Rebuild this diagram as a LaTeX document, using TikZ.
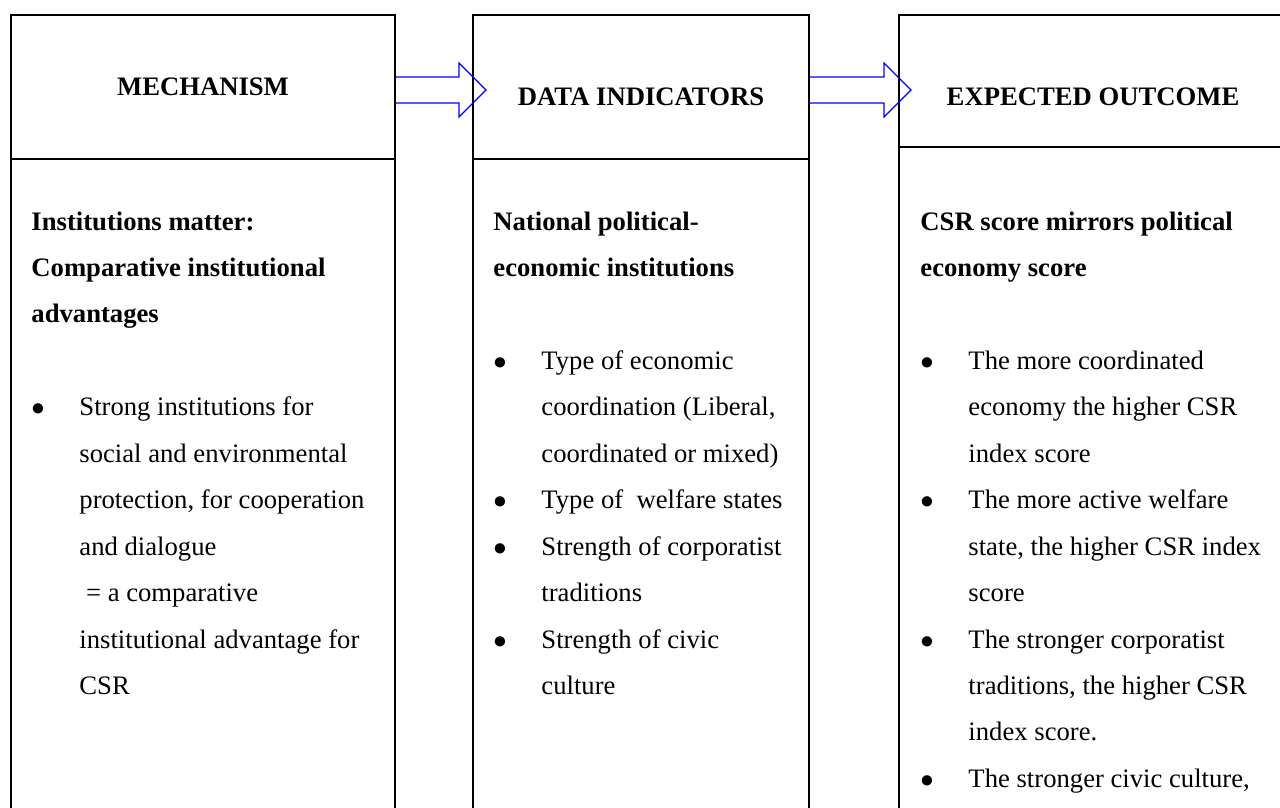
\documentclass[tikz,border=0pt]{standalone}
\usepackage{fontspec}
\setmainfont{Liberation Serif}
\usetikzlibrary{positioning}
\definecolor{arrowblue}{RGB}{0,0,255}
\newcommand{\bul}{\makebox[21.6pt][l]{$\bullet$}}
\newcommand{\ind}{\hspace*{21.6pt}}
\newcommand{\colbody}[1]{\parbox[t]{175pt}{\raggedright #1}}

\begin{document}
\begin{tikzpicture}[x=0.45pt,y=-0.45pt,font=\fontsize{12}{20.9}\selectfont,
  headbox/.style={draw,line width=0.5pt,minimum width=#1,minimum height=64.8pt,
    inner sep=0pt,outer sep=0pt,font=\fontsize{12}{20.9}\selectfont\bfseries},
  bodybox/.style={draw,line width=0.5pt,minimum width=#1,minimum height=310pt,
    inner sep=0pt,outer sep=0pt},
  bodytext/.style={anchor=base west,inner sep=0pt},
  hollow/.style={draw=arrowblue,line width=0.55pt,line join=miter}]
  \useasboundingbox (0,0) rectangle (1280,807);
  \clip (0,0) rectangle (1280,807);
  % column heads
  \node[headbox=172.8pt,anchor=north west] (mechhead) at (11,15) {MECHANISM};
  \node[headbox=151.2pt,text height=17.1pt,right=35.1pt of mechhead] (datahead) {DATA INDICATORS};
  \node[headbox=174.6pt,minimum height=59.4pt,text height=22.5pt,
    right=40.5pt of datahead.north east,anchor=north west] (outhead) {EXPECTED OUTCOME};
  % column bodies, running on past the page
  \node[bodybox=172.8pt,below=0pt of mechhead] (mechbody) {};
  \node[bodybox=151.2pt,below=0pt of datahead] (databody) {};
  \node[bodybox=174.6pt,below=0pt of outhead] (outbody) {};
  % open block arrows between the heads
  \draw[hollow] (mechhead.east) ++(0,-10) -- ++(64,0) -- ++(0,-14) -- ++(27,27)
    -- ++(-27,27) -- ++(0,-14) -- ++(-64,0);
  \draw[hollow] (datahead.east) ++(0,-10) -- ++(75,0) -- ++(0,-14) -- ++(27,27)
    -- ++(-27,27) -- ++(0,-14) -- ++(-75,0);
  % texts
  \node[bodytext] (mechtext) at (31,230) {\colbody{%
    \textbf{Institutions matter:}\\
    \textbf{Comparative institutional}\\
    \textbf{advantages}\\[20.9pt]
    \bul Strong institutions for\\
    \ind social and environmental\\
    \ind protection, for cooperation\\
    \ind and dialogue\\
    \ind\ = a comparative\\
    \ind institutional advantage for\\
    \ind CSR}};
  \node[bodytext] (datatext) at (493,230) {\colbody{%
    \textbf{National political-}\\
    \textbf{economic institutions}\\[20.9pt]
    \bul Type of economic\\
    \ind coordination (Liberal,\\
    \ind coordinated or mixed)\\
    \bul Type of\ \ welfare states\\
    \bul Strength of corporatist\\
    \ind traditions\\
    \bul Strength of civic\\
    \ind culture}};
  \node[bodytext] (outtext) at (920,230) {\colbody{%
    \textbf{CSR score mirrors political}\\
    \textbf{economy score}\\[20.9pt]
    \bul The more coordinated\\
    \ind economy the higher CSR\\
    \ind index score\\
    \bul The more active welfare\\
    \ind state, the higher CSR index\\
    \ind score\\
    \bul The stronger corporatist\\
    \ind traditions, the higher CSR\\
    \ind index score.\\
    \bul The stronger civic culture,}};
\end{tikzpicture}
\end{document}
